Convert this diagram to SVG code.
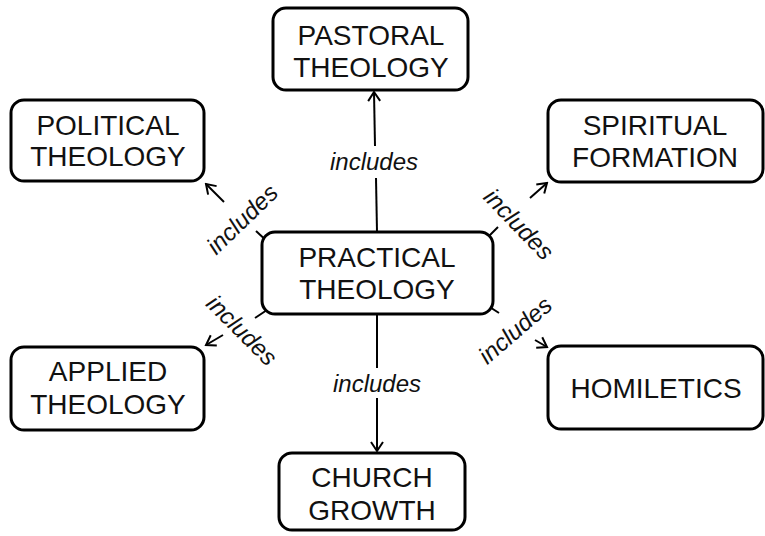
<svg xmlns="http://www.w3.org/2000/svg" width="765" height="536" viewBox="0 0 765 536">
  <style>
    .box { fill: #ffffff; stroke: #000000; stroke-width: 3; }
    .lbl { font-family: "Liberation Sans", Arial, sans-serif; font-size: 28px; fill: #111111; text-anchor: middle; }
    .edge { stroke: #000000; stroke-width: 2; fill: none; }
    .inc { font-family: "Liberation Sans", Arial, sans-serif; font-size: 24px; font-style: italic; fill: #111111; text-anchor: middle; dominant-baseline: central; }
  </style>
  <defs>
    <marker id="arrow" viewBox="-12 -8 14 16" refX="0" refY="0" markerWidth="14" markerHeight="16" markerUnits="userSpaceOnUse" orient="auto">
      <path d="M -9,-6 L 0,0 L -9,6" fill="none" stroke="#000000" stroke-width="2"/>
    </marker>
  </defs>

  <!-- connectors: each edge is drawn as a stub at the source and an arrowed tail, with the label between -->
  <g id="connectors">
    <line class="edge" x1="377" y1="232" x2="376" y2="178"/>
    <line class="edge" x1="375" y1="146" x2="374" y2="92" marker-end="url(#arrow)"/>
    <text class="inc" x="374" y="161">includes</text>

    <line class="edge" x1="377" y1="314" x2="377" y2="368"/>
    <line class="edge" x1="377" y1="398" x2="377" y2="451" marker-end="url(#arrow)"/>
    <text class="inc" x="377" y="383">includes</text>

    <line class="edge" x1="270" y1="244" x2="256" y2="231"/>
    <line class="edge" x1="224" y1="202" x2="206" y2="184" marker-end="url(#arrow)"/>
    <text class="inc" x="242" y="219" transform="rotate(-44 242 219)">includes</text>

    <line class="edge" x1="485" y1="240" x2="498" y2="227"/>
    <line class="edge" x1="530" y1="198" x2="547" y2="183" marker-end="url(#arrow)"/>
    <text class="inc" x="519" y="224" transform="rotate(46 519 224)">includes</text>

    <line class="edge" x1="270" y1="308" x2="255" y2="318"/>
    <line class="edge" x1="223" y1="335" x2="206" y2="345" marker-end="url(#arrow)"/>
    <text class="inc" x="242" y="330" transform="rotate(45 242 330)">includes</text>

    <line class="edge" x1="482" y1="302" x2="499" y2="313"/>
    <line class="edge" x1="535" y1="340" x2="547" y2="347" marker-end="url(#arrow)"/>
    <text class="inc" x="515" y="330" transform="rotate(-41 515 330)">includes</text>
  </g>

  <g id="practical">
    <rect class="box" x="262" y="232" width="231" height="82" rx="13"/>
    <text class="lbl" x="377" y="267">PRACTICAL</text>
    <text class="lbl" x="377" y="299">THEOLOGY</text>
  </g>

  <g id="pastoral">
    <rect class="box" x="273" y="8" width="195" height="82" rx="13"/>
    <text class="lbl" x="371" y="45">PASTORAL</text>
    <text class="lbl" x="371" y="77">THEOLOGY</text>
  </g>

  <g id="political">
    <rect class="box" x="11" y="100" width="193" height="81" rx="13"/>
    <text class="lbl" x="108" y="135">POLITICAL</text>
    <text class="lbl" x="108" y="166">THEOLOGY</text>
  </g>

  <g id="spiritual">
    <rect class="box" x="548" y="100" width="215" height="82" rx="13"/>
    <text class="lbl" x="655" y="135">SPIRITUAL</text>
    <text class="lbl" x="655" y="167">FORMATION</text>
  </g>

  <g id="applied">
    <rect class="box" x="11" y="347" width="193" height="83" rx="13"/>
    <text class="lbl" x="108" y="381">APPLIED</text>
    <text class="lbl" x="108" y="414">THEOLOGY</text>
  </g>

  <g id="homiletics">
    <rect class="box" x="548" y="346" width="215" height="83" rx="13"/>
    <text class="lbl" x="656" y="398">HOMILETICS</text>
  </g>

  <g id="church-growth">
    <rect class="box" x="279" y="453" width="186" height="77" rx="13"/>
    <text class="lbl" x="372" y="487">CHURCH</text>
    <text class="lbl" x="372" y="520">GROWTH</text>
  </g>
</svg>
